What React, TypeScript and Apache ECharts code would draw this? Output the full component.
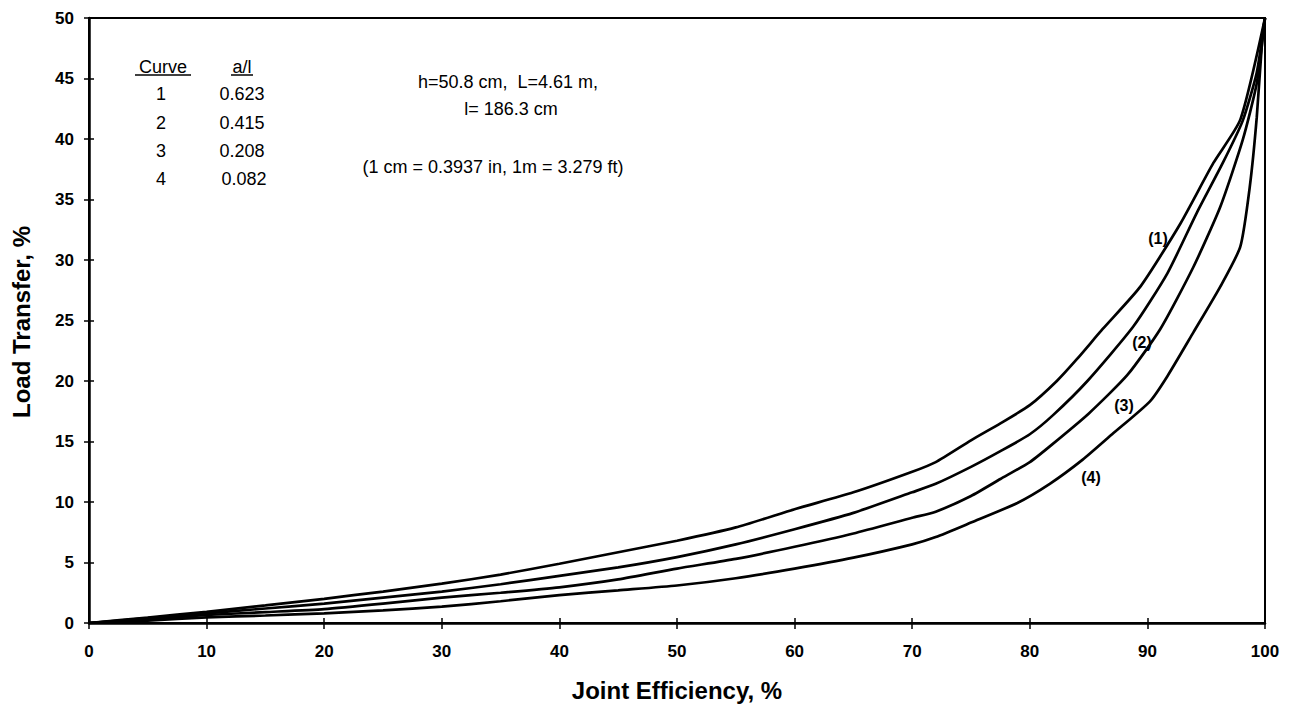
import React, { useEffect, useRef } from "react";
import * as echarts from "echarts";

// ---- Data ----
const curve1X = [0, 5, 10, 15, 20, 25, 30, 35, 40, 45, 50, 55, 60, 65, 70, 72, 75, 77.5, 80, 82.3, 84, 86.2, 89.4, 92.8, 95.6, 97.9, 100];
const curve1Y = [0, 0.45, 0.93, 1.45, 2.0, 2.6, 3.25, 4.0, 4.9, 5.85, 6.8, 7.9, 9.4, 10.8, 12.5, 13.3, 15.1, 16.5, 18.0, 20.0, 21.8, 24.3, 27.8, 33.0, 38.0, 41.6, 50];

const curve2X = [0, 5, 10, 15, 20, 25, 30, 35, 40, 45, 50, 55, 60, 65, 70, 72, 75, 77.5, 80, 82, 84.9, 88.8, 91.7, 94.2, 96.4, 98.1, 99.3, 100];
const curve2Y = [0, 0.4, 0.8, 1.2, 1.6, 2.1, 2.6, 3.2, 3.9, 4.6, 5.45, 6.5, 7.75, 9.1, 10.8, 11.5, 12.9, 14.2, 15.6, 17.2, 20.0, 24.5, 28.9, 33.9, 38.0, 41.5, 45.5, 50];

const curve3X = [0, 5, 10, 15, 20, 25, 30, 35, 40, 45, 50, 55, 60, 65, 70, 72, 75, 77.5, 80, 81.7, 85, 88.3, 91.1, 93.9, 96.2, 98.1, 99.3, 100];
const curve3Y = [0, 0.3, 0.66, 0.9, 1.15, 1.6, 2.1, 2.5, 2.95, 3.6, 4.5, 5.3, 6.3, 7.4, 8.7, 9.2, 10.5, 11.9, 13.3, 14.6, 17.3, 20.5, 24.3, 29.4, 34.4, 39.9, 44.6, 50];

const curve4X = [0, 5, 10, 15, 20, 25, 30, 35, 40, 45, 50, 55, 60, 65, 70, 72, 75, 78.9, 81.7, 84.5, 87, 90.2, 91.7, 93.9, 96.2, 97.9, 98.7, 99.3, 99.8, 100];
const curve4Y = [0, 0.2, 0.47, 0.62, 0.8, 1.05, 1.35, 1.8, 2.3, 2.7, 3.1, 3.7, 4.5, 5.4, 6.5, 7.1, 8.3, 9.9, 11.5, 13.5, 15.6, 18.3, 20.4, 24.0, 27.8, 31.1, 36.0, 41.8, 48.7, 50];

const curveNames = ["1", "2", "3", "4"];
const aOverL = ["0.623", "0.415", "0.208", "0.082"];

const xMin = 0, xMax = 100, xStep = 10;
const yMin = 0, yMax = 50, yStep = 5;

const FONT = "'Liberation Sans', Arial, Helvetica, sans-serif";

const toPairs = (xs: number[], ys: number[]) => xs.map((x, i) => [x, ys[i]]);

export default function App() {
  const ref = useRef<HTMLDivElement>(null);

  useEffect(() => {
    if (!ref.current) return;
    const chart = echarts.init(ref.current, null, { renderer: "svg" });

    const grid = { left: 89, top: 18, width: 1176, height: 605 };

    const axisCommon = {
      type: "value" as const,
      splitLine: { show: false },
    };

    const tickStyle = { color: "#000", width: 1.5 };

    const series = [
      toPairs(curve1X, curve1Y),
      toPairs(curve2X, curve2Y),
      toPairs(curve3X, curve3Y),
      toPairs(curve4X, curve4Y),
    ].map((d, i) => ({
      type: "line",
      name: "Curve " + curveNames[i],
      data: d,
      xAxisIndex: 0,
      yAxisIndex: 0,
      showSymbol: false,
      symbol: "none",
      smooth: 0.2,
      lineStyle: { color: "#000", width: 2.7 },
      silent: true,
    }));

    const tableTexts: any[] = [];
    tableTexts.push({
      type: "text", x: 163, y: 67,
      style: { text: "Curve", font: `18px ${FONT}`, fill: "#000", align: "center", verticalAlign: "middle" },
    });
    tableTexts.push({
      type: "text", x: 242, y: 67,
      style: { text: "a/l", font: `18px ${FONT}`, fill: "#000", align: "center", verticalAlign: "middle" },
    });
    tableTexts.push({ type: "line", shape: { x1: 135, y1: 75, x2: 191, y2: 75 }, style: { stroke: "#000", lineWidth: 1.5 } });
    tableTexts.push({ type: "line", shape: { x1: 231, y1: 75, x2: 253, y2: 75 }, style: { stroke: "#000", lineWidth: 1.5 } });
    const rowY = [94, 123, 151, 179];
    curveNames.forEach((c, i) => {
      tableTexts.push({
        type: "text", x: 161, y: rowY[i],
        style: { text: c, font: `18px ${FONT}`, fill: "#000", align: "center", verticalAlign: "middle" },
      });
      tableTexts.push({
        type: "text", x: i === 3 ? 244 : 242, y: rowY[i],
        style: { text: aOverL[i], font: `18px ${FONT}`, fill: "#000", align: "center", verticalAlign: "middle" },
      });
    });

    const noteStyle = (text: string) => ({ text, font: `18px ${FONT}`, fill: "#000", align: "center", verticalAlign: "middle" });

    const curveLabelPos = [
      [1158, 238],
      [1142, 342],
      [1124, 405],
      [1091, 477],
    ];

    chart.setOption({
      animation: false,
      backgroundColor: "#fff",
      grid: { ...grid, show: true, borderColor: "#000", borderWidth: 2, backgroundColor: "transparent" },
      xAxis: [
        {
          ...axisCommon,
          min: xMin, max: xMax, interval: xStep,
          position: "bottom",
          axisLine: { show: true, onZero: false, lineStyle: { color: "#000", width: 2.5 } },
          axisTick: { show: true, inside: false, length: 6, lineStyle: tickStyle },
          axisLabel: { color: "#000", fontFamily: FONT, fontWeight: "bold", fontSize: 17, margin: 20 },
        },
        {
          ...axisCommon,
          min: xMin, max: xMax, interval: xStep,
          position: "bottom",
          axisLine: { show: false, onZero: false },
          axisTick: { show: true, inside: true, length: 5, lineStyle: tickStyle },
          axisLabel: { show: false },
        },
      ],
      yAxis: [
        {
          ...axisCommon,
          min: yMin, max: yMax, interval: yStep,
          position: "left",
          axisLine: { show: true, onZero: false, lineStyle: { color: "#000", width: 2.5 } },
          axisTick: { show: true, inside: false, length: 5, lineStyle: tickStyle },
          axisLabel: { color: "#000", fontFamily: FONT, fontWeight: "bold", fontSize: 17, margin: 15 },
        },
        {
          ...axisCommon,
          min: yMin, max: yMax, interval: yStep,
          position: "left",
          axisLine: { show: false, onZero: false },
          axisTick: { show: true, inside: true, length: 5, lineStyle: tickStyle },
          axisLabel: { show: false },
        },
      ],
      series,
      graphic: [
        ...tableTexts,
        { type: "text", x: 508, y: 82, style: noteStyle("h=50.8 cm,  L=4.61 m,") },
        { type: "text", x: 511, y: 109, style: noteStyle("l= 186.3 cm") },
        { type: "text", x: 493, y: 167, style: noteStyle("(1 cm = 0.3937 in, 1m = 3.279 ft)") },
        ...curveLabelPos.map((p, i) => ({
          type: "text", x: p[0], y: p[1],
          style: { text: `(${curveNames[i]})`, font: `bold 16px ${FONT}`, fill: "#000", align: "center", verticalAlign: "middle" },
        })),
        {
          type: "text", x: 677, y: 690,
          style: { text: "Joint Efficiency, %", font: `bold 24px ${FONT}`, fill: "#000", align: "center", verticalAlign: "middle" },
        },
        {
          type: "text", x: 21, y: 322, rotation: Math.PI / 2,
          style: { text: "Load Transfer, %", font: `bold 24px ${FONT}`, fill: "#000", align: "center", verticalAlign: "middle" },
        },
      ],
    });

    return () => chart.dispose();
  }, []);

  return (
    <div
      ref={ref}
      style={{ position: "absolute", left: 0, top: 0, width: 1290, height: 707, background: "#fff" }}
    />
  );
}
